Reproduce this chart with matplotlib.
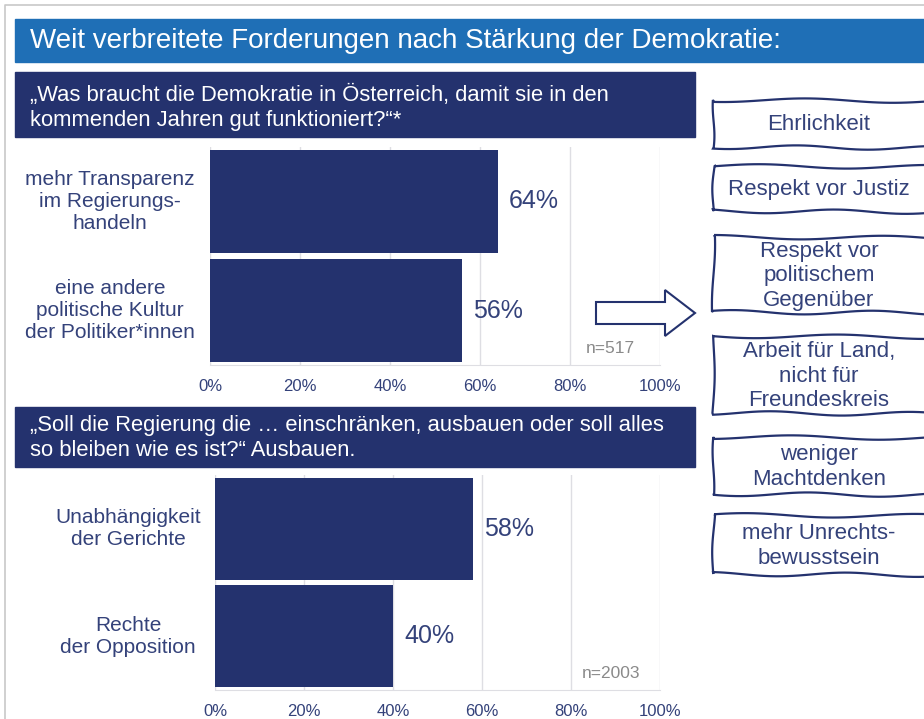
import numpy as np
import matplotlib
matplotlib.use("Agg")
import matplotlib.pyplot as plt
from matplotlib.patches import Rectangle, Polygon
from matplotlib.path import Path
from matplotlib.patches import PathPatch

plt.rcParams['font.family'] = ['Liberation Sans', 'DejaVu Sans']

# ---------------- data ----------------
title = "Weit verbreitete Forderungen nach Stärkung der Demokratie:"
q1 = "„Was braucht die Demokratie in Österreich, damit sie in den\nkommenden Jahren gut funktioniert?“*"
cats1 = ["mehr Transparenz\nim Regierungs-\nhandeln", "eine andere\npolitische Kultur\nder Politiker*innen"]
vals1 = [64, 56]
n1 = "n=517"
q2 = "„Soll die Regierung die … einschränken, ausbauen oder soll alles\nso bleiben wie es ist?“ Ausbauen."
cats2 = ["Unabhängigkeit\nder Gerichte", "Rechte\nder Opposition"]
vals2 = [58, 40]
n2 = "n=2003"
ticks = [0, 20, 40, 60, 80, 100]
tick_labels = ["0%", "20%", "40%", "60%", "80%", "100%"]
boxes = ["Ehrlichkeit", "Respekt vor Justiz", "Respekt vor\npolitischem\nGegenüber",
         "Arbeit für Land,\nnicht für\nFreundeskreis", "weniger\nMachtdenken",
         "mehr Unrechts-\nbewusstsein"]

# ---------------- style ----------------
W, H = 924, 719
NAVY = "#24326e"
BLUE = "#1f6fb6"
TXT = "#34427a"
GRID = "#dedee3"

fig = plt.figure(figsize=(W / 100, H / 100), dpi=100)
fig.patch.set_facecolor("white")

# overlay in pixel coords
ov = fig.add_axes([0, 0, 1, 1])
ov.set_xlim(0, W)
ov.set_ylim(H, 0)
ov.axis("off")

# outer border
ov.plot([5, 5, W], [H, 5, 5], color="#c8c8c8", lw=1.2)

# title bar
ov.add_patch(Rectangle((15, 19), W - 15, 43, color=BLUE))
ov.text(30, 41, title, color="white", fontsize=20, va="center", ha="left")

# question boxes
ov.add_patch(Rectangle((15, 72), 680, 65, color=NAVY))
ov.text(30, 108, q1, color="white", fontsize=15.8, va="center", ha="left", linespacing=1.2)
ov.add_patch(Rectangle((15, 407), 680, 60, color=NAVY))
ov.text(30, 438, q2, color="white", fontsize=15.8, va="center", ha="left", linespacing=1.2)

# wavy boxes
def wavy_box(ax, x0, y0, x1, y1, seed):
    pts = []
    ph = seed * 1.7
    def edge(xa, ya, xb, yb, amp, k):
        n = 40
        t = np.linspace(0, 1, n)
        xs = xa + (xb - xa) * t
        ys = ya + (yb - ya) * t
        dx, dy = xb - xa, yb - ya
        L = np.hypot(dx, dy)
        nx, ny = -dy / L, dx / L
        off = amp * np.sin(2 * np.pi * k * t + ph + k)
        return list(zip(xs + nx * off, ys + ny * off))
    pts += edge(x0, y0, x1, y0 + 1, 2.0, 1.3)
    pts += edge(x1, y0 + 1, x1 + 1, y1, 1.2, 0.8)
    pts += edge(x1 + 1, y1, x0 - 1, y1 - 1, 2.0, 1.6)
    pts += edge(x0 - 1, y1 - 1, x0, y0, 1.2, 0.7)
    path = Path(pts + [pts[0]])
    ax.add_patch(PathPatch(path, facecolor="white", edgecolor=NAVY, lw=1.6))

box_y = [(100, 148), (166, 212), (237, 313), (336, 414), (437, 495), (515, 575)]
for i, (lab, (ya, yb)) in enumerate(zip(boxes, box_y)):
    wavy_box(ov, 714, ya, 935, yb, i)
    ov.text(819, (ya + yb) / 2 + 1, lab, color=TXT, fontsize=16, ha="center", va="center",
            linespacing=1.2)


def bar_panel(rect_px, cats, vals, ntxt, label_x):
    x0, y0, x1, y1 = rect_px
    ax = fig.add_axes([x0 / W, 1 - y1 / H, (x1 - x0) / W, (y1 - y0) / H])
    ax.patch.set_alpha(0)
    ax.set_xlim(0, 100)
    ax.set_ylim(1.5, -0.5)
    ax.barh(range(len(vals)), vals, height=0.95, color=NAVY, zorder=3)
    ax.set_xticks(ticks)
    ax.set_xticklabels(tick_labels, color=TXT, fontsize=12)
    ax.tick_params(axis="x", length=0, pad=10)
    ax.set_yticks([])
    ax.grid(axis="x", color=GRID, lw=1, zorder=0)
    for s in ["top", "left", "right"]:
        ax.spines[s].set_visible(False)
    ax.spines["bottom"].set_color(GRID)
    for i, v in enumerate(vals):
        ax.text(v + 2.5, i, f"{v}%", color=TXT, fontsize=18, va="center", ha="left", zorder=4)
        ax.text(label_x, i, cats[i], transform=ax.get_yaxis_transform(), color=TXT,
                fontsize=15, ha="center", va="center", linespacing=1.2)
    ax.text(89, 1.35, ntxt, color="#8a8a8a", fontsize=12.5, ha="center", va="center")
    return ax

bar_panel((210, 147, 660, 365), cats1, vals1, n1, -0.222)
bar_panel((215, 475, 660, 690), cats2, vals2, n2, -0.195)

# hollow arrow (on top)
ov2 = fig.add_axes([0, 0, 1, 1])
ov2.set_xlim(0, W)
ov2.set_ylim(H, 0)
ov2.axis("off")
arrow = [(596, 302), (665, 302), (665, 290), (695, 313), (665, 336), (665, 324), (596, 324)]
ov2.add_patch(Polygon(arrow, closed=True, facecolor="white", edgecolor=NAVY, lw=1.5))

fig.savefig("out.png", dpi=100, facecolor="white")
